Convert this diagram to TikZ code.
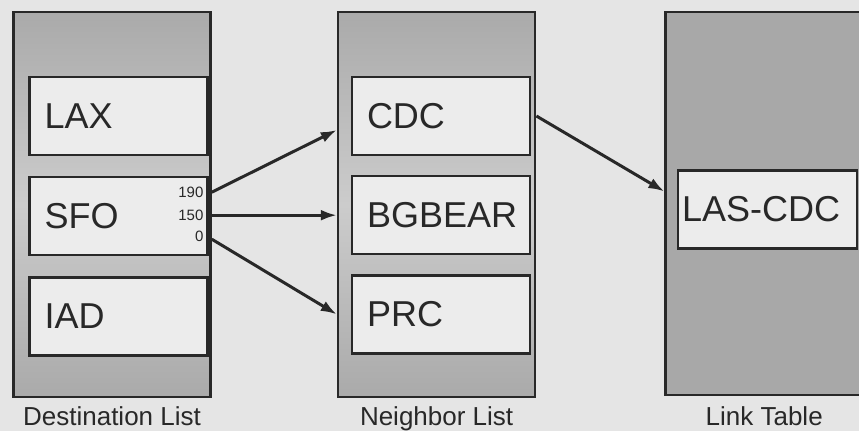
\documentclass[tikz,border=0pt]{standalone}
\usepackage{fontspec}
\setmainfont{Liberation Sans}
\usetikzlibrary{positioning, arrows.meta, calc}
\definecolor{cPage}{RGB}{229,229,229}
\definecolor{cBox}{RGB}{236,236,236}
\definecolor{cDark}{RGB}{170,170,170}
\definecolor{cMid}{RGB}{204,204,204}
\definecolor{cLink}{RGB}{168,168,168}
\definecolor{cInk}{RGB}{40,40,40}

\begin{document}
\begin{tikzpicture}[x=1pt, y=-1pt, node distance=20pt,
    panel/.style={draw=cInk, line width=2.6pt, inner sep=0pt, minimum width=197pt, minimum height=385pt,
        top color=cDark, bottom color=cDark, middle color=cMid},
    entry/.style={draw=cInk, line width=2.2pt, fill=cBox, minimum height=78pt, inner xsep=15pt,
        text width=148pt, align=left, text=cInk, font=\fontsize{36}{40}\selectfont},
    cost/.style={inner sep=0pt, anchor=east, text=cInk, font=\fontsize{15}{16}\selectfont},
    caption/.style={inner sep=0pt, text=cInk, font=\fontsize{26}{30}\selectfont},
    link/.style={color=cInk, -{Latex[length=16pt,width=11pt]}, line width=3pt}]

    \fill[cPage] (0,0) rectangle (859,431);
    \useasboundingbox (0,0) rectangle (859,431);

    % the three tables
    \node[panel] (dest) at (112,204.5) {};
    \node[panel] (nbr) [right=125pt of dest] {};
    \node[panel, top color=cLink, bottom color=cLink, middle color=cLink,
        minimum height=383pt] (tbl) [right=128pt of nbr, yshift=1pt] {};

    \node[caption] (destcap) [below=8pt of dest] {Destination List};
    \node[caption] (nbrcap) [below=8pt of nbr] {Neighbor List};
    \node[caption] (tblcap) [below=10pt of tbl] {Link Table};

    % entries
    \node[entry] (lax) at (118.5,116) {LAX};
    \node[entry] (sfo) [below=of lax] {SFO};
    \node[entry] (iad) [below=of sfo] {IAD};

    \node[entry] (cdc) at (441,116) {CDC};
    \node[entry] (bgbear) [below=19pt of cdc] {BGBEAR};
    \node[entry] (prc) [below=19pt of bgbear] {PRC};

    \node[entry, inner xsep=4pt, text width=171pt] (las) at (767.5,209.5) {LAS-CDC};

    % costs on SFO
    \node[cost] (n190) at ([xshift=-5pt, yshift=24pt]sfo.east) {190};
    \node[cost] (n150) at ([xshift=-5pt, yshift=1pt]sfo.east) {150};
    \node[cost] (n0) at ([xshift=-5pt, yshift=-20pt]sfo.east) {0};

    \coordinate (cdcin) at ($(nbr.west |- cdc.center)+(0,14)$);
    \coordinate (lasin) at ($(tbl.west |- las.center)+(0,-18)$);

    \path[link]
    (n190 -| dest.east) edge (cdcin)
    (n150 -| dest.east) edge (nbr.west |- bgbear.center)
    ([yshift=-3pt]n0 -| dest.east) edge (nbr.west |- prc.center)
    (cdc.east -| nbr.east) edge (lasin);
\end{tikzpicture}
\end{document}
